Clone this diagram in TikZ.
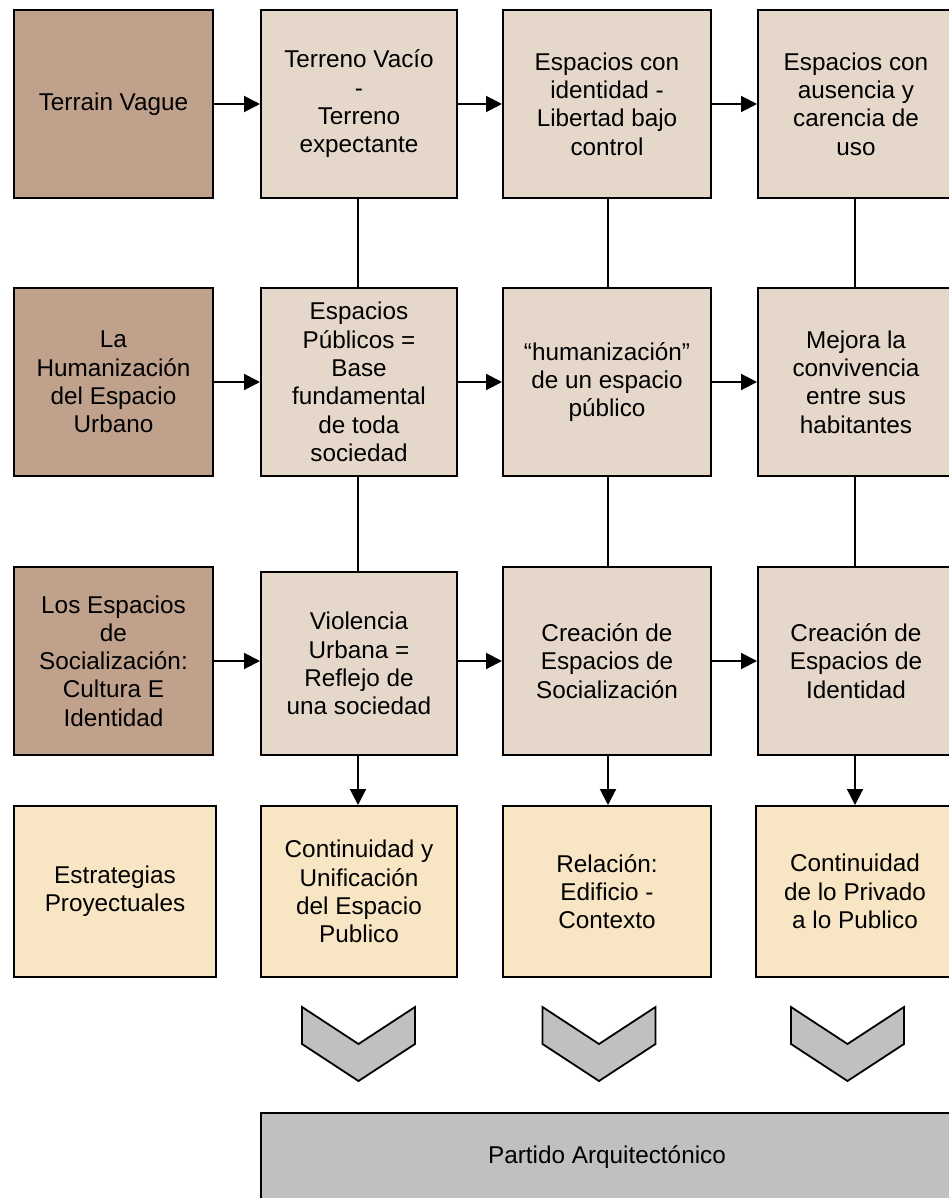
\documentclass[tikz,border=0pt]{standalone}
\usepackage{fontspec}
\setmainfont{Liberation Sans}
\usetikzlibrary{arrows.meta}
\definecolor{darkbox}{RGB}{191,161,140}
\definecolor{lightbox}{RGB}{229,216,202}
\definecolor{yellowbox}{RGB}{247,229,195}
\definecolor{greybox}{RGB}{192,192,192}
\begin{document}
\begin{tikzpicture}[x=1pt,y=-1pt,
  box/.style={draw=black,line width=2pt,rectangle,inner sep=0pt,align=center,
    font=\fontsize{24.3}{28.3}\selectfont,text=black},
  headbox/.style={box,fill=darkbox},
  midbox/.style={box,fill=lightbox},
  stratbox/.style={box,fill=yellowbox},
  finalbox/.style={box,fill=greybox},
  conn/.style={line width=2pt,draw=black},
  arr/.style={conn,-{Triangle[length=16pt,width=16pt]}},
  chev/.style={draw=black,line width=1.8pt,fill=greybox,line join=miter}
]
\useasboundingbox (0,0) rectangle (948,1198);
% row 1
\node[headbox,minimum width=199pt,minimum height=188pt] (r1c0) at (113.5,104) {Terrain Vague};
\node[midbox,minimum width=196pt,minimum height=188pt] (r1c1) at (359,104) {Terreno Vacío\\-\\Terreno\\expectante};
\node[midbox,minimum width=208pt,minimum height=188pt] (r1c2) at (607,104) {Espacios con\\identidad -\\Libertad bajo\\control};
\node[midbox,minimum width=196pt,minimum height=188pt] (r1c3) at (856,104) {Espacios con\\ausencia y\\carencia de\\uso};
% row 2
\node[headbox,minimum width=199pt,minimum height=188pt] (r2c0) at (113.5,382) {La\\Humanización\\del Espacio\\Urbano};
\node[midbox,minimum width=196pt,minimum height=188pt] (r2c1) at (359,382) {Espacios\\Públicos =\\Base\\fundamental\\de toda\\sociedad};
\node[midbox,minimum width=208pt,minimum height=188pt] (r2c2) at (607,382) {“humanización”\\de un espacio\\público};
\node[midbox,minimum width=196pt,minimum height=188pt] (r2c3) at (856,382) {Mejora la\\convivencia\\entre sus\\habitantes};
% row 3
\node[headbox,minimum width=199pt,minimum height=188pt] (r3c0) at (113.5,661) {Los Espacios\\de\\Socialización:\\Cultura E\\Identidad};
\node[midbox,minimum width=196pt,minimum height=183pt] (r3c1) at (359,663.5) {Violencia\\Urbana =\\Reflejo de\\una sociedad};
\node[midbox,minimum width=208pt,minimum height=188pt] (r3c2) at (607,661) {Creación de\\Espacios de\\Socialización};
\node[midbox,minimum width=196pt,minimum height=188pt] (r3c3) at (856,661) {Creación de\\Espacios de\\Identidad};
% row 4
\node[stratbox,minimum width=202pt,minimum height=171pt] (r4c0) at (115,891.5) {Estrategias\\Proyectuales};
\node[stratbox,minimum width=196pt,minimum height=171pt] (r4c1) at (359,891.5) {Continuidad y\\Unificación\\del Espacio\\Publico};
\node[stratbox,minimum width=208pt,minimum height=171pt] (r4c2) at (607,891.5) {Relación:\\Edificio -\\Contexto};
\node[stratbox,minimum width=198pt,minimum height=171pt] (r4c3) at (855,891.5) {Continuidad\\de lo Privado\\a lo Publico};
% final
\node[finalbox,minimum width=692pt,minimum height=88pt] (final) at (607,1157) {Partido Arquitectónico};
% horizontal arrows
\foreach \r in {1,2}{
  \draw[arr] (r\r c0.east) -- (r\r c1.west);
  \draw[arr] (r\r c1.east) -- (r\r c2.west);
  \draw[arr] (r\r c2.east) -- (r\r c3.west);
}
\draw[arr] (r3c0.east) -- (r3c0.east -| r3c1.west);
\draw[arr] (r3c2.west -| r3c1.east) -- (r3c2.west);
\draw[arr] (r3c2.east) -- (r3c3.west);
% vertical lines
\foreach \c/\x in {1/358,2/608,3/855}{
  \coordinate (t1\c) at (\x,198);
  \coordinate (t2\c) at (\x,288);
  \draw[conn] (t1\c) -- (t2\c);
  \coordinate (u1\c) at (\x,476);
  \draw[conn] (u1\c) -- (u1\c |- r3c\c.north);
  \coordinate (v1\c) at (\x,755);
  \draw[arr] (v1\c) -- (v1\c |- r4c\c.north);
}
% chevrons
\foreach \cx in {358.5,599,847.5}{
  \draw[chev] (\cx-56.5,1007) -- (\cx,1044) -- (\cx+56.5,1007) -- (\cx+56.5,1044) -- (\cx,1081) -- (\cx-56.5,1044) -- cycle;
}
\end{tikzpicture}
\end{document}
